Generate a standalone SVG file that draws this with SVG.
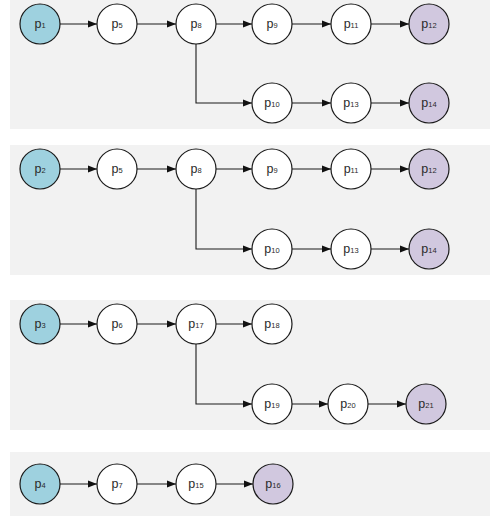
<svg xmlns="http://www.w3.org/2000/svg" width="493" height="516" viewBox="0 0 493 516">
<defs>
<marker id="ah" viewBox="0 0 10 10" refX="10" refY="5" markerWidth="9" markerHeight="9" markerUnits="userSpaceOnUse" orient="auto">
<path d="M0,1 L10,5 L0,9 Z" fill="#111"/>
</marker>
<style>
.bg{fill:#f2f2f2}
circle{stroke:#1a1a1a;stroke-width:1.2}
.n{fill:#fff}
.s{fill:#9ed1df}
.e{fill:#d1c8df}
text{font-family:"Liberation Sans",Arial,sans-serif;font-size:12.5px;fill:#2a2a2a;text-anchor:middle}
.sub{font-size:7.5px}
.c path{fill:none;stroke:#1a1a1a;stroke-width:1.1;marker-end:url(#ah)}
</style>
</defs>
<g id="panels">
<rect class="bg" x="10" y="0" width="480" height="129"/>
<rect class="bg" x="10" y="145" width="480" height="130"/>
<rect class="bg" x="10" y="300" width="480" height="130"/>
<rect class="bg" x="10" y="452" width="480" height="64"/>
</g>
<g class="c" id="connectors">
<path d="M60,24 H97"/>
<path d="M137,24 H176"/>
<path d="M216,24 H252"/>
<path d="M292,24 H331"/>
<path d="M371,24 H409"/>
<path d="M196,44 V103 H252"/>
<path d="M292,103 H331"/>
<path d="M371,103 H409"/>
<path d="M60,169 H97"/>
<path d="M137,169 H176"/>
<path d="M216,169 H252"/>
<path d="M292,169 H331"/>
<path d="M371,169 H409"/>
<path d="M196,189 V249 H252"/>
<path d="M292,249 H331"/>
<path d="M371,249 H409"/>
<path d="M60,324 H97"/>
<path d="M137,324 H176"/>
<path d="M216,324 H252"/>
<path d="M196,344 V404 H252"/>
<path d="M292,404 H328"/>
<path d="M368,404 H406"/>
<path d="M60,484 H97"/>
<path d="M137,484 H176"/>
<path d="M216,484 H253"/>
</g>
<g id="n-p1"><circle class="s" cx="40" cy="24" r="20"/><text x="40" y="28">p<tspan class="sub">1</tspan></text></g>
<g id="n-p5a"><circle class="n" cx="117" cy="24" r="20"/><text x="117" y="28">p<tspan class="sub">5</tspan></text></g>
<g id="n-p8a"><circle class="n" cx="196" cy="24" r="20"/><text x="196" y="28">p<tspan class="sub">8</tspan></text></g>
<g id="n-p9a"><circle class="n" cx="272" cy="24" r="20"/><text x="272" y="28">p<tspan class="sub">9</tspan></text></g>
<g id="n-p11a"><circle class="n" cx="351" cy="24" r="20"/><text x="351" y="28">p<tspan class="sub">11</tspan></text></g>
<g id="n-p12a"><circle class="e" cx="429" cy="24" r="20"/><text x="429" y="28">p<tspan class="sub">12</tspan></text></g>
<g id="n-p10a"><circle class="n" cx="272" cy="103" r="20"/><text x="272" y="107">p<tspan class="sub">10</tspan></text></g>
<g id="n-p13a"><circle class="n" cx="351" cy="103" r="20"/><text x="351" y="107">p<tspan class="sub">13</tspan></text></g>
<g id="n-p14a"><circle class="e" cx="429" cy="103" r="20"/><text x="429" y="107">p<tspan class="sub">14</tspan></text></g>
<g id="n-p2"><circle class="s" cx="40" cy="169" r="20"/><text x="40" y="173">p<tspan class="sub">2</tspan></text></g>
<g id="n-p5b"><circle class="n" cx="117" cy="169" r="20"/><text x="117" y="173">p<tspan class="sub">5</tspan></text></g>
<g id="n-p8b"><circle class="n" cx="196" cy="169" r="20"/><text x="196" y="173">p<tspan class="sub">8</tspan></text></g>
<g id="n-p9b"><circle class="n" cx="272" cy="169" r="20"/><text x="272" y="173">p<tspan class="sub">9</tspan></text></g>
<g id="n-p11b"><circle class="n" cx="351" cy="169" r="20"/><text x="351" y="173">p<tspan class="sub">11</tspan></text></g>
<g id="n-p12b"><circle class="e" cx="429" cy="169" r="20"/><text x="429" y="173">p<tspan class="sub">12</tspan></text></g>
<g id="n-p10b"><circle class="n" cx="272" cy="249" r="20"/><text x="272" y="253">p<tspan class="sub">10</tspan></text></g>
<g id="n-p13b"><circle class="n" cx="351" cy="249" r="20"/><text x="351" y="253">p<tspan class="sub">13</tspan></text></g>
<g id="n-p14b"><circle class="e" cx="429" cy="249" r="20"/><text x="429" y="253">p<tspan class="sub">14</tspan></text></g>
<g id="n-p3"><circle class="s" cx="40" cy="324" r="20"/><text x="40" y="328">p<tspan class="sub">3</tspan></text></g>
<g id="n-p6"><circle class="n" cx="117" cy="324" r="20"/><text x="117" y="328">p<tspan class="sub">6</tspan></text></g>
<g id="n-p17"><circle class="n" cx="196" cy="324" r="20"/><text x="196" y="328">p<tspan class="sub">17</tspan></text></g>
<g id="n-p18"><circle class="n" cx="272" cy="324" r="20"/><text x="272" y="328">p<tspan class="sub">18</tspan></text></g>
<g id="n-p19"><circle class="n" cx="272" cy="404" r="20"/><text x="272" y="408">p<tspan class="sub">19</tspan></text></g>
<g id="n-p20"><circle class="n" cx="348" cy="404" r="20"/><text x="348" y="408">p<tspan class="sub">20</tspan></text></g>
<g id="n-p21"><circle class="e" cx="426" cy="404" r="20"/><text x="426" y="408">p<tspan class="sub">21</tspan></text></g>
<g id="n-p4"><circle class="s" cx="40" cy="484" r="20"/><text x="40" y="488">p<tspan class="sub">4</tspan></text></g>
<g id="n-p7"><circle class="n" cx="117" cy="484" r="20"/><text x="117" y="488">p<tspan class="sub">7</tspan></text></g>
<g id="n-p15"><circle class="n" cx="196" cy="484" r="20"/><text x="196" y="488">p<tspan class="sub">15</tspan></text></g>
<g id="n-p16"><circle class="e" cx="273" cy="484" r="20"/><text x="273" y="488">p<tspan class="sub">16</tspan></text></g>
</svg>
